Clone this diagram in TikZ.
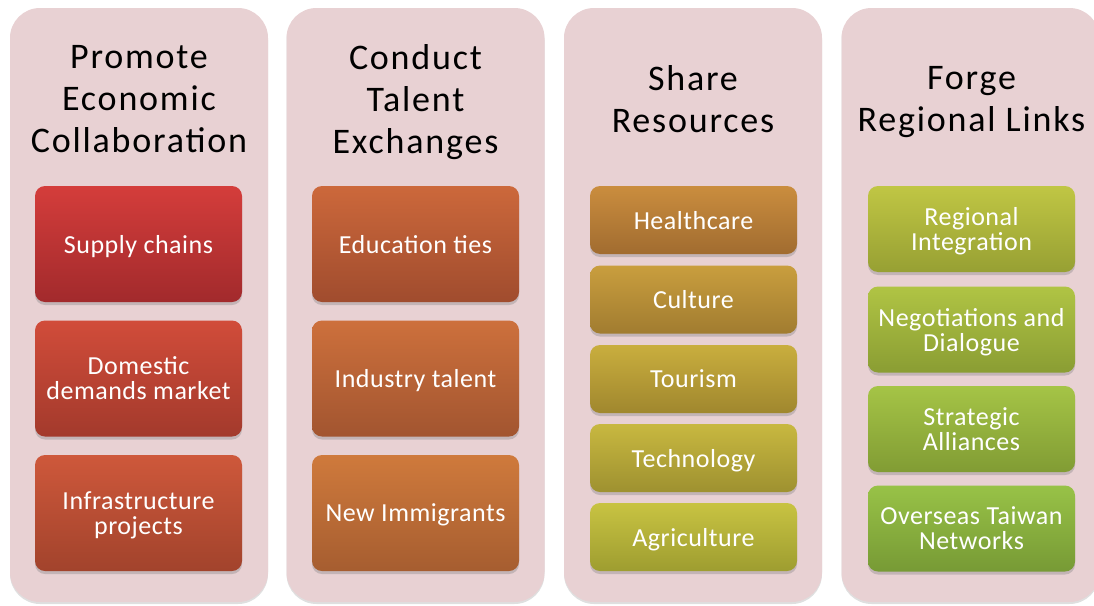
\documentclass[tikz,border=0pt]{standalone}
\usepackage{fontspec}
\setmainfont{Carlito}
\newfontfamily\titlefont[LetterSpace=5]{Carlito}
\newfontfamily\itemfont[LetterSpace=2]{Carlito}
\usetikzlibrary{positioning,shadows}

\begin{document}
\begin{tikzpicture}[x=1pt,y=-1pt,
  panel/.style={rectangle,rounded corners=30pt,fill=pinkbg,minimum width=258pt,minimum height=594pt,
    drop shadow={shadow xshift=0pt,shadow yshift=-2pt,opacity=0.25}},
  title/.style={align=center,font=\titlefont\fontsize{36}{42}\selectfont,text=black,text depth=0pt},
  item/.style={rectangle,rounded corners=10pt,minimum width=207pt,align=center,inner sep=0pt,
    text=white,font=\itemfont\fontsize{26}{25}\selectfont,text depth=0pt,
    drop shadow={shadow xshift=0pt,shadow yshift=-3pt,opacity=0.35}},
  big/.style={item,minimum height=116pt},
  small/.style={item,minimum height=68pt},
  mid/.style={item,minimum height=86pt}]
  \definecolor{pinkbg}{RGB}{232,209,211}
  \useasboundingbox (0,0) rectangle (1094,605);
  % background panels
  \node[panel] (econ)    at (139,305)    {};
  \node[panel] (talent)  at (415.5,305)  {};
  \node[panel] (share)   at (693,305)    {};
  \node[panel] (forge)   at (970.5,305)  {};
  % titles
  \node[title] (econ t)   at (139,99)   {Promote\\Economic\\Collaboration};
  \node[title] (talent t) at (415.5,99) {Conduct\\Talent\\Exchanges};
  \node[title] (share t)  at (693,99)   {Share\\Resources};
  \node[title] (forge t)  at (971.5,99) {Forge\\Regional Links};
  % economic collaboration
  \node[big,top color={rgb,255:red,212;green,61;blue,59},bottom color={rgb,255:red,162;green,42;blue,44}]
    (supply)   at (138.5,244)   {Supply chains};
  \node[big,top color={rgb,255:red,209;green,76;blue,58},bottom color={rgb,255:red,163;green,58;blue,44}]
    (domestic) at (138.5,378.5) {Domestic\\demands market};
  \node[big,top color={rgb,255:red,206;green,88;blue,59},bottom color={rgb,255:red,162;green,67;blue,44}]
    (infra)    at (138.5,513)   {Infrastructure\\projects};
  % talent exchanges
  \node[big,top color={rgb,255:red,204;green,104;blue,59},bottom color={rgb,255:red,160;green,76;blue,46}]
    (edu)      at (415.5,244)   {Education ties};
  \node[big,top color={rgb,255:red,205;green,112;blue,60},bottom color={rgb,255:red,162;green,85;blue,48}]
    (industry) at (415.5,378.5) {Industry talent};
  \node[big,top color={rgb,255:red,207;green,122;blue,60},bottom color={rgb,255:red,166;green,93;blue,48}]
    (immig)    at (415.5,513)   {New Immigrants};
  % share resources
  \node[small,top color={rgb,255:red,202;green,141;blue,62},bottom color={rgb,255:red,161;green,108;blue,48}]
    (health)   at (693.5,220)   {Healthcare};
  \node[small,top color={rgb,255:red,201;green,158;blue,62},bottom color={rgb,255:red,161;green,124;blue,48}]
    (culture)  at (693.5,299.5) {Culture};
  \node[small,top color={rgb,255:red,201;green,174;blue,62},bottom color={rgb,255:red,160;green,135;blue,46}]
    (tourism)  at (693.5,379)   {Tourism};
  \node[small,top color={rgb,255:red,200;green,184;blue,64},bottom color={rgb,255:red,158;green,145;blue,48}]
    (tech)     at (693.5,458)   {Technology};
  \node[small,top color={rgb,255:red,200;green,195;blue,66},bottom color={rgb,255:red,158;green,157;blue,48}]
    (agri)     at (693.5,537)   {Agriculture};
  % regional links
  \node[mid,top color={rgb,255:red,192;green,198;blue,68},bottom color={rgb,255:red,151;green,160;blue,51}]
    (integ)    at (971.5,229)   {Regional\\Integration};
  \node[mid,top color={rgb,255:red,176;green,196;blue,68},bottom color={rgb,255:red,138;green,157;blue,51}]
    (nego)     at (971.5,329.5) {Negotiations and\\Dialogue};
  \node[mid,top color={rgb,255:red,165;green,196;blue,70},bottom color={rgb,255:red,129;green,156;blue,52}]
    (allies)   at (971.5,429)   {Strategic\\Alliances};
  \node[mid,top color={rgb,255:red,152;green,194;blue,71},bottom color={rgb,255:red,119;green,154;blue,53}]
    (overseas) at (971.5,528.5) {Overseas Taiwan\\Networks};
\end{tikzpicture}
\end{document}
